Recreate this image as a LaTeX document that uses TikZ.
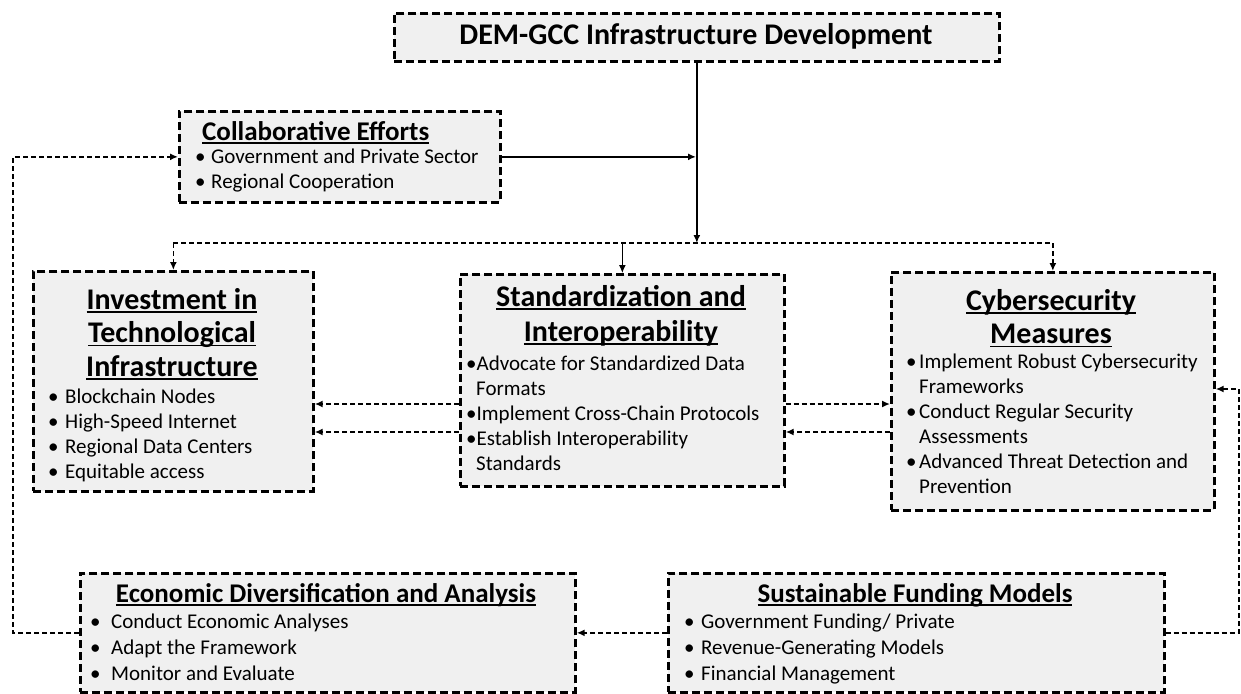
\documentclass[tikz,border=0pt]{standalone}
\usepackage{fontspec}
\setmainfont{Carlito}
\usetikzlibrary{arrows.meta}
\definecolor{boxfill}{RGB}{240,240,240}
\newcommand{\uln}[1]{\setbox0\hbox{#1}\rlap{\rule[-3.5pt]{\wd0}{1.6pt}}\box0}
\newcommand{\bfl}{\rule{0pt}{17pt}}
\newcommand{\tfl}{\rule{0pt}{24pt}}
\begin{document}
\begin{tikzpicture}[x=1pt,y=-1pt,
  box/.style={draw=black, fill=boxfill, line width=2.7pt, dash pattern=on 8pt off 4pt, inner sep=0, anchor=north west},
  blist/.style={inner sep=0, anchor=north west, align=left, font=\fontsize{21}{25}\selectfont},
  ttl/.style={inner sep=0, anchor=north, align=center, font=\bfseries\fontsize{30}{33.5}\selectfont},
  sttl/.style={inner sep=0, anchor=base, font=\bfseries\fontsize{27}{30}\selectfont},
  dconn/.style={line width=1.7pt, dash pattern=on 5pt off 3pt},
  darrow/.style={dconn, -{Latex[length=8pt,width=7pt]}},
  sarrow/.style={line width=1.6pt, -{Latex[length=8pt,width=7pt]}},
  tarrow/.style={line width=1.2pt, -{Latex[length=8pt,width=7pt]}}
]
\useasboundingbox (0,0) rectangle (1241,693);
\fill[white] (0,0) rectangle (1241,693);

% boxes
\node[box, minimum width=605pt, minimum height=48pt] (top) at (393,12) {};
\node[box, minimum width=321pt, minimum height=91pt] (coll) at (178,110) {};
\node[box, minimum width=280pt, minimum height=220pt] (inv) at (32,270) {};
\node[box, minimum width=324pt, minimum height=212pt] (std) at (459,273) {};
\node[box, minimum width=323pt, minimum height=238pt] (cyb) at (890,271) {};
\node[box, minimum width=495pt, minimum height=119pt] (eco) at (79,572) {};
\node[box, minimum width=496pt, minimum height=119pt] (sus) at (667,572) {};

% texts
\node[sttl, font=\bfseries\fontsize{30}{33}\selectfont] (topt) at (696,45) {DEM-GCC Infrastructure Development};

\node[sttl, anchor=base west] (collt) at (202,140) {\uln{Collaborative Efforts}};
\node[blist] (collb) at (195,146) {\bfl\makebox[16pt][l]{•}Government and Private Sector\\\makebox[16pt][l]{•}Regional Cooperation};

\node[ttl] (invt) at (172,285) {\tfl\uln{Investment in}\\\uln{Technological}\\\uln{Infrastructure}};
\node[blist] (invb) at (48,386) {\bfl\makebox[17pt][l]{•}Blockchain Nodes\\\makebox[17pt][l]{•}High-Speed Internet\\\makebox[17pt][l]{•}Regional Data Centers\\\makebox[17pt][l]{•}Equitable access};

\node[ttl, font=\bfseries\fontsize{30}{35}\selectfont] (stdt) at (621,282) {\tfl\uln{Standardization and}\\\uln{Interoperability}};
\node[blist] (stdb) at (466,353) {\bfl•Advocate for Standardized Data\\\hspace*{10pt}Formats\\•Implement Cross-Chain Protocols\\•Establish Interoperability\\\hspace*{10pt}Standards};

\node[ttl] (cybt) at (1051,286) {\tfl\uln{Cybersecurity}\\\uln{Measures}};
\node[blist] (cybb) at (906,351) {\bfl\makebox[13pt][l]{•}Implement Robust Cybersecurity\\\hspace*{13pt}Frameworks\\\makebox[13pt][l]{•}Conduct Regular Security\\\hspace*{13pt}Assessments\\\makebox[13pt][l]{•}Advanced Threat Detection and\\\hspace*{13pt}Prevention};

\node[sttl] (ecot) at (326,602) {\uln{Economic Diversification and Analysis}};
\node[blist, font=\fontsize{21}{26}\selectfont] (ecob) at (90,611) {\bfl\makebox[21pt][l]{•}Conduct Economic Analyses\\\makebox[21pt][l]{•}Adapt the Framework\\\makebox[21pt][l]{•}Monitor and Evaluate};

\node[sttl] (sust) at (915,602) {\uln{Sustainable Funding Models}};
\node[blist, font=\fontsize{21}{26}\selectfont] (susb) at (684,611) {\bfl\makebox[17pt][l]{•}Government Funding/ Private\\\makebox[17pt][l]{•}Revenue-Generating Models\\\makebox[17pt][l]{•}Financial Management};

% connectors
\coordinate (hub) at (696,243);
\coordinate (busL) at (inv.north |- hub);
\coordinate (busR) at (cyb.north |- hub);
\draw[sarrow] (top.south) -- (top.south |- hub);
\draw[sarrow] (coll.east) -- (coll.east -| hub);
\draw[dconn] (busL) -- (busR);
\draw[darrow] (busL) -- (inv.north);
\draw[tarrow] (std.north |- hub) -- (std.north);
\draw[darrow] (busR) -- (cyb.north);

\draw[darrow] (std.west |- 0,404) -- (inv.east |- 0,404);
\draw[darrow] (std.west |- 0,432) -- (inv.east |- 0,432);
\draw[darrow] (std.east |- 0,404) -- (cyb.west |- 0,404);
\draw[darrow] (cyb.west |- 0,432) -- (std.east |- 0,432);

\coordinate (rc) at (1239,389);
\draw[darrow] (sus.east) -- (sus.east -| rc) -- (rc) -- (cyb.east |- rc);
\draw[darrow] (sus.west) -- (eco.east);
\coordinate (lc) at (13,0);
\draw[darrow] (eco.west) -- (eco.west -| lc) -- (lc |- coll.west) -- (coll.west);
\end{tikzpicture}
\end{document}
